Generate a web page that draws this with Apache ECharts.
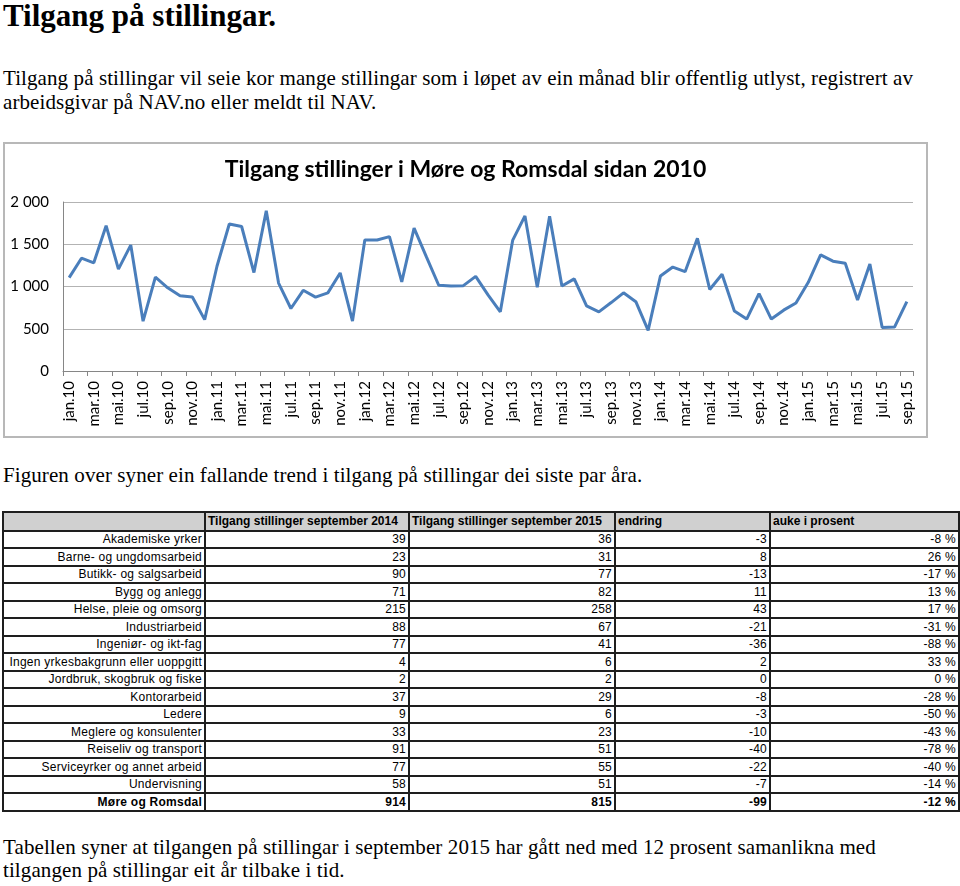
<!DOCTYPE html>
<html><head><meta charset="utf-8">
<script src="https://cdn.jsdelivr.net/npm/echarts@6/dist/echarts.min.js"></script>
<style>
html,body{margin:0;padding:0;background:#fff;}
body{width:960px;height:886px;position:relative;overflow:hidden;}
.t{position:absolute;left:3px;font-family:"Liberation Serif","Times New Roman",serif;color:#000;white-space:nowrap;}
#h1{top:-2px;font-size:31px;font-weight:bold;}
#p1{top:66px;font-size:21px;line-height:24px;letter-spacing:0.09px;}
#p2{top:463px;font-size:21px;line-height:24px;letter-spacing:0.09px;}
#p3{top:836px;font-size:21px;line-height:23px;letter-spacing:0.1px;}
#chartbox{position:absolute;left:3px;top:142px;width:925px;height:296px;box-sizing:border-box;border:2px solid #b8b8b8;}
#chart{width:921px;height:292px;}
#tbl{position:absolute;left:2px;top:511px;border-collapse:collapse;table-layout:fixed;font-family:"Liberation Sans",Arial,sans-serif;font-size:12px;color:#000;}
#tbl td{border:2px solid #1e1e1e;padding:0 2px;white-space:nowrap;overflow:hidden;line-height:14px;letter-spacing:0.25px;}
#tbl tr{height:17.5px;}
#tbl tr.hd{height:18.5px;background:#d0d0d0;}
#tbl tr.hd td{font-weight:bold;text-align:left;letter-spacing:0;}
#tbl td.r{text-align:right;}
#tbl tr.tot td{font-weight:bold;}
</style></head>
<body>
<div class="t" id="h1">Tilgang på stillingar.</div>
<div class="t" id="p1">Tilgang på stillingar vil seie kor mange stillingar som i løpet av ein månad blir offentlig utlyst, registrert av<br>arbeidsgivar på NAV.no eller meldt til NAV.</div>
<div id="chartbox"><div id="chart"></div></div>
<div class="t" id="p2">Figuren over syner ein fallande trend i tilgang på stillingar dei siste par åra.</div>
<table id="tbl"></table>
<div class="t" id="p3">Tabellen syner at tilgangen på stillingar i september 2015 har gått ned med 12 prosent samanlikna med<br>tilgangen på stillingar eit år tilbake i tid.</div>
<script>
// ---- chart data ----
const monthNames = ['jan','feb','mar','apr','mai','jun','jul','aug','sep','okt','nov','des'];
const years = ['10','11','12','13','14','15'];
const months = [];
years.forEach(function(y){ monthNames.forEach(function(m){ months.push(m + '.' + y); }); });
months.length = 69; // jan.10 .. sep.15

const tilgang = [
  1105,1335,1280,1720,1205,1490,590,1110,985,890,875,608,
  1240,1740,1710,1165,1895,1040,740,955,875,925,1160,590,
  1550,1550,1590,1055,1690,1350,1015,1005,1010,1120,900,700,
  1545,1835,990,1830,1005,1090,770,700,810,925,820,480,
  1125,1230,1175,1570,965,1145,710,615,915,615,720,805,
  1050,1375,1300,1275,840,1265,515,520,820
];
const yTicks = [0, 500, 1000, 1500, 2000];

// ---- table data ----
const tableHeader = ['', 'Tilgang stillinger september 2014', 'Tilgang stillinger september 2015', 'endring', 'auke i prosent'];
const yrker = ['Akademiske yrker','Barne- og ungdomsarbeid','Butikk- og salgsarbeid','Bygg og anlegg','Helse, pleie og omsorg','Industriarbeid','Ingeniør- og ikt-fag','Ingen yrkesbakgrunn eller uoppgitt','Jordbruk, skogbruk og fiske','Kontorarbeid','Ledere','Meglere og konsulenter','Reiseliv og transport','Serviceyrker og annet arbeid','Undervisning'];
const sep2014 = [39,23,90,71,215,88,77,4,2,37,9,33,91,77,58];
const sep2015 = [36,31,77,82,258,67,41,6,2,29,6,23,51,55,51];
const endring = [-3,8,-13,11,43,-21,-36,2,0,-8,-3,-10,-40,-22,-7];
const aukeProsent = [-8,26,-17,13,17,-31,-88,33,0,-28,-50,-43,-78,-40,-14];
const totalRow = ['Møre og Romsdal', 914, 815, -99, -12];

// build table
(function(){
  const tbl = document.getElementById('tbl');
  const widths = [202, 204, 206, 155, 189];
  const cg = document.createElement('colgroup');
  widths.forEach(function(w){ const c = document.createElement('col'); c.style.width = w + 'px'; cg.appendChild(c); });
  tbl.appendChild(cg);
  function addRow(cells, cls, alignRight){
    const tr = document.createElement('tr');
    if (cls) tr.className = cls;
    cells.forEach(function(v){
      const td = document.createElement('td');
      td.textContent = v;
      if (alignRight) td.className = 'r';
      tr.appendChild(td);
    });
    tbl.appendChild(tr);
  }
  addRow(tableHeader, 'hd', false);
  for (let i = 0; i < yrker.length; i++) {
    addRow([yrker[i], sep2014[i], sep2015[i], endring[i], aukeProsent[i] + ' %'], '', true);
  }
  addRow([totalRow[0], totalRow[1], totalRow[2], totalRow[3], totalRow[4] + ' %'], 'tot', true);
})();

// chart
const chart = echarts.init(document.getElementById('chart'), null, {renderer: 'canvas'});
const font = 'Lato, "Open Sans", sans-serif';
chart.setOption({
  animation: false,
  title: {
    text: 'Tilgang stillinger i Møre og Romsdal sidan 2010',
    left: 'center', top: 9,
    textStyle: {fontFamily: font, fontSize: 23, fontWeight: 'bold', color: '#000'}
  },
  grid: {left: 58, top: 58, width: 850, height: 169, containLabel: false},
  xAxis: {
    type: 'category',
    data: months,
    boundaryGap: true,
    axisLine: {lineStyle: {color: '#868686', width: 1}},
    axisTick: {show: true, interval: 1, length: 5, lineStyle: {color: '#868686'}},
    axisLabel: {interval: 1, rotate: 90, margin: 10, fontFamily: font, fontSize: 15, color: '#000'},
    splitLine: {show: false}
  },
  yAxis: {
    type: 'value',
    min: yTicks[0], max: yTicks[yTicks.length - 1], interval: 500,
    axisLine: {show: true, lineStyle: {color: '#868686', width: 1}},
    axisTick: {show: false},
    axisLabel: {
      margin: 14, fontFamily: font, fontSize: 15, color: '#000',
      formatter: function(v){ return v >= 1000 ? Math.floor(v/1000) + ' ' + String(v % 1000).padStart(3, '0') : String(v); }
    },
    splitLine: {show: true, lineStyle: {color: '#b3b3b3', width: 1}}
  },
  series: [{
    type: 'line',
    data: tilgang,
    showSymbol: false,
    symbol: 'none',
    lineStyle: {color: '#4a7ebb', width: 3},
    itemStyle: {color: '#4a7ebb'}
  }]
});
</script>
</body></html>
